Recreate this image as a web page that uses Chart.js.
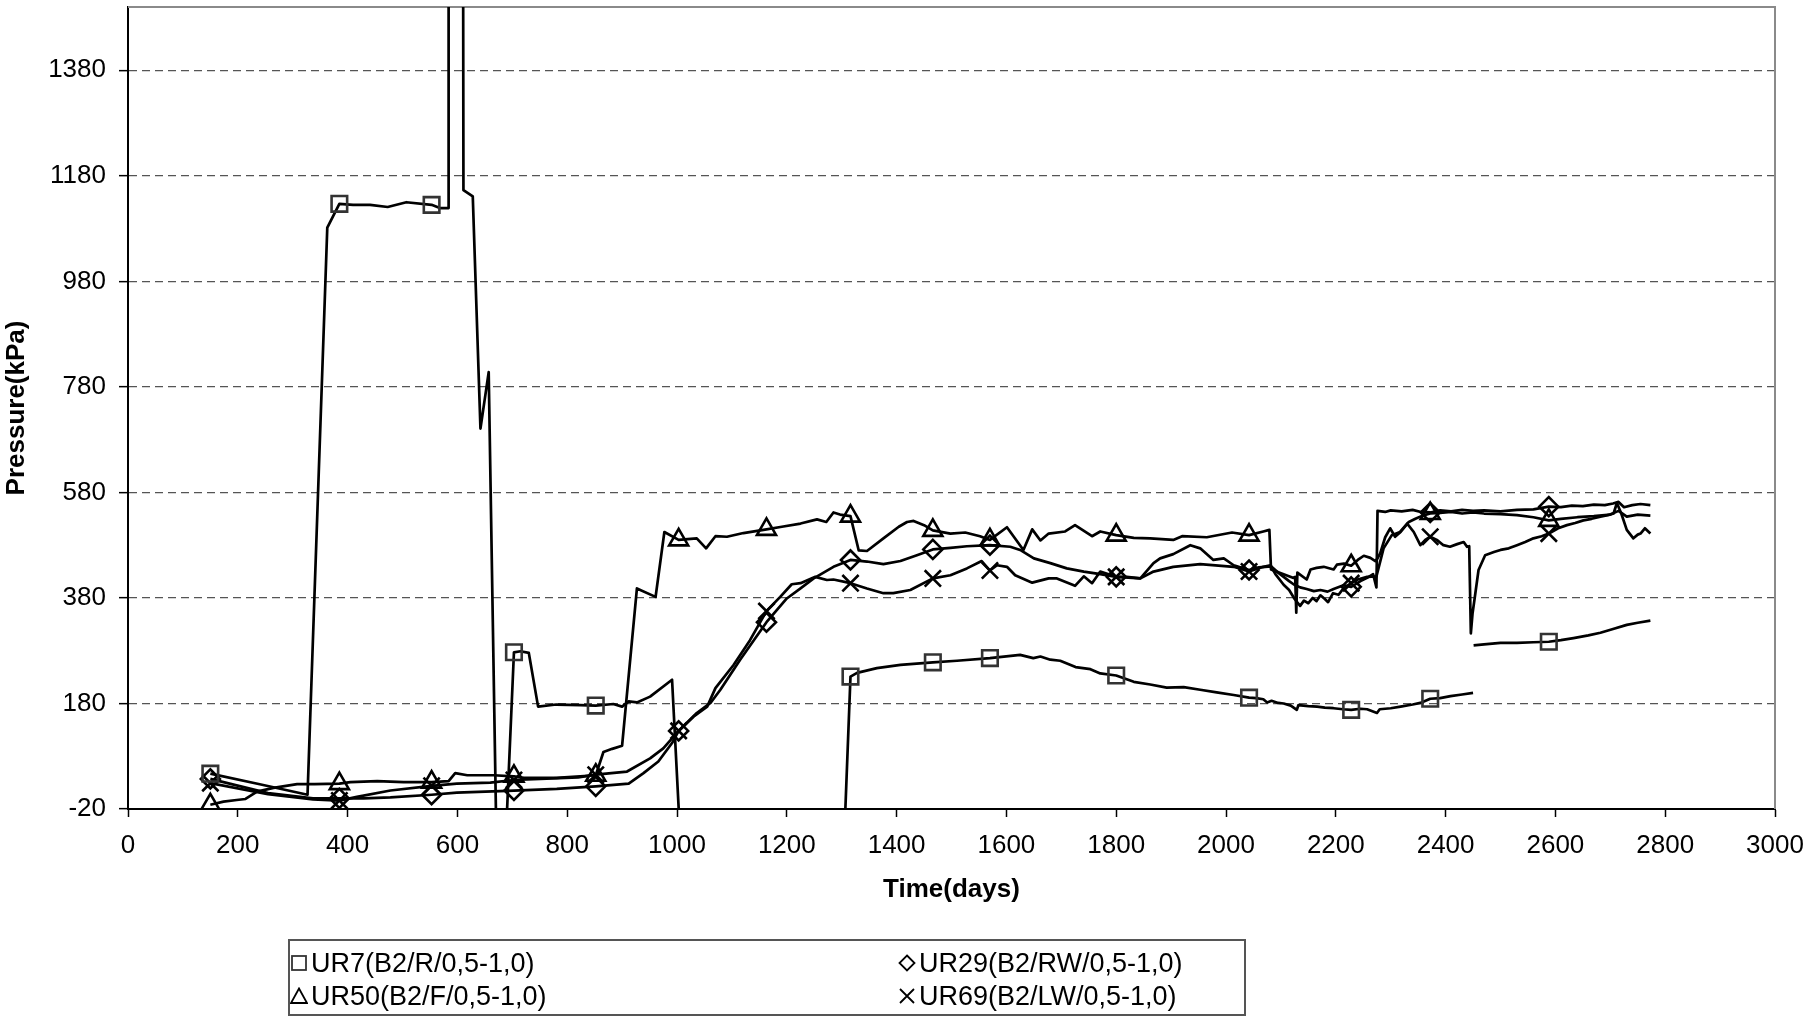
<!DOCTYPE html>
<html>
<head>
<meta charset="utf-8">
<title>Pressure vs time</title>
<script src="https://cdn.jsdelivr.net/npm/chart.js@4.4.1/dist/chart.umd.min.js"></script>
<style>
  body { margin: 0; background: #fff; }
  #wrap { position: relative; width: 1807px; height: 1018px; }
  #legend {
    position: absolute; left: 288px; top: 939px; width: 958px; height: 77px;
    border: 2px solid #555; box-sizing: border-box;
    font-family: "Liberation Sans", Arial, sans-serif; font-size: 27px; color: #000;
  }
  .item { position: absolute; height: 32px; line-height: 32px; white-space: nowrap; display: flex; align-items: center; }
  .item svg { margin-right: 3px; flex: none; }
</style>
</head>
<body>
<div id="wrap">
  <canvas id="chart" width="1807" height="1018"></canvas>
  <div id="legend"></div>
</div>
<script>
// axis ticks
const xTicks = [0, 200, 400, 600, 800, 1000, 1200, 1400, 1600, 1800, 2000, 2200, 2400, 2600, 2800, 3000];
const yTicks = [-20, 180, 380, 580, 780, 980, 1180, 1380];

// days on which Excel put a marker on each curve
const markerDays = [150, 385, 553, 703, 852, 1003, 1163, 1316, 1466, 1570, 1800, 2042, 2228, 2372, 2588];

// [day, kPa] (values under -20 / over 1500 run off the axes)
const ur7 = [
  [150, 47], [240, 27], [327, 7], [363, 1082], [385, 1127], [410, 1125], [441, 1125], [473, 1121],
  [507, 1130], [553, 1125], [568, 1119], [583, 1119], [584, 1900], [610, 1900], [611, 1153], [628, 1141],
  [642, 701], [657, 808], [673, -200], [683, -200], [703, 277], [715, 279], [730, 276], [747, 174],
  [780, 178], [824, 177], [852, 176], [884, 179], [900, 174], [912, 184], [927, 182], [951, 193],
  [991, 225], [1012, -200], [1300, -200], [1316, 231], [1328, 238], [1364, 247], [1407, 253], [1466, 258],
  [1510, 261], [1570, 266], [1625, 272], [1649, 266], [1662, 269], [1680, 263], [1698, 261], [1726, 249],
  [1753, 245], [1771, 237], [1800, 233], [1832, 221], [1862, 216], [1892, 210], [1923, 211], [1953, 206],
  [1983, 201], [2014, 196], [2042, 191], [2055, 190], [2068, 188], [2075, 182], [2083, 185], [2095, 181],
  [2105, 180], [2118, 176], [2129, 168], [2132, 177], [2150, 175], [2166, 174], [2180, 172], [2196, 171],
  [2213, 169], [2228, 168], [2245, 170], [2257, 169], [2275, 162], [2280, 169], [2300, 171], [2318, 174],
  [2340, 178], [2354, 181], [2372, 189], [2390, 190], [2409, 194], [2430, 197], [2450, 200], [2450.5, null],
  [2451, 290], [2470, 292], [2500, 295], [2530, 295], [2560, 296], [2588, 297], [2610, 300], [2633, 304],
  [2660, 309], [2682, 314], [2705, 321], [2730, 329], [2750, 333], [2773, 337]
];

const ur29 = [
  [150, 37], [255, 10], [337, 0], [385, 0], [429, 0], [478, 2], [553, 7], [599, 11], [703, 15], [781, 18],
  [852, 23], [912, 28], [939, 48], [966, 70], [991, 105], [1003, 128], [1036, 162], [1061, 181], [1079, 206],
  [1115, 263], [1163, 334], [1200, 379], [1225, 398], [1249, 417], [1285, 439], [1316, 452], [1346, 449],
  [1376, 444], [1407, 450], [1437, 461], [1466, 472], [1498, 475], [1528, 478], [1570, 480], [1607, 477],
  [1625, 471], [1650, 455], [1680, 446], [1710, 436], [1741, 430], [1771, 425], [1800, 420], [1844, 417],
  [1868, 446], [1880, 455], [1904, 463], [1935, 480], [1953, 474], [1977, 452], [1996, 455], [2014, 442],
  [2042, 433], [2060, 438], [2082, 440], [2095, 428], [2105, 420], [2115, 412], [2123, 406], [2135, 400],
  [2147, 397], [2160, 393], [2172, 395], [2185, 392], [2196, 397], [2214, 404], [2228, 401], [2245, 412],
  [2257, 418], [2268, 425], [2274, 400], [2276, 545], [2290, 543], [2300, 546], [2320, 544], [2340, 547],
  [2355, 543], [2372, 542], [2390, 546], [2410, 544], [2430, 547], [2450, 545], [2470, 546], [2500, 544],
  [2530, 547], [2560, 548], [2588, 553], [2610, 552], [2630, 555], [2650, 554], [2670, 557], [2690, 556],
  [2705, 559], [2715, 562], [2725, 552], [2740, 556], [2755, 558], [2773, 556]
];

const ur50 = [
  [150, -12], [174, -6], [198, -3], [214, -1], [235, 13], [265, 20], [308, 27], [340, 27], [385, 28],
  [405, 31], [454, 33], [502, 31], [553, 31], [584, 33], [596, 48], [618, 44], [666, 44], [703, 42],
  [721, 39], [781, 39], [852, 44], [866, 88], [882, 94], [900, 100], [927, 398], [961, 382], [977, 505],
  [1003, 490], [1036, 493], [1053, 474], [1070, 497], [1091, 496], [1121, 503], [1163, 510], [1191, 515],
  [1225, 521], [1255, 529], [1272, 524], [1285, 542], [1297, 538], [1316, 535], [1331, 470], [1346, 469],
  [1376, 493], [1404, 515], [1419, 524], [1431, 526], [1450, 518], [1466, 508], [1498, 502], [1525, 504],
  [1552, 497], [1570, 490], [1601, 514], [1631, 471], [1647, 510], [1662, 489], [1677, 502], [1707, 506],
  [1725, 518], [1756, 497], [1771, 506], [1800, 499], [1832, 494], [1862, 493], [1904, 490], [1920, 497],
  [1965, 495], [2011, 504], [2042, 499], [2068, 506], [2079, 509], [2082, 434], [2105, 425], [2123, 418],
  [2126, 420], [2128, 352], [2130, 428], [2147, 415], [2154, 434], [2165, 437], [2178, 439], [2196, 434],
  [2202, 443], [2215, 445], [2228, 441], [2240, 452], [2251, 460], [2263, 456], [2272, 450], [2276, 455],
  [2281, 465], [2290, 495], [2299, 512], [2308, 496], [2318, 505], [2333, 524], [2345, 530], [2358, 536],
  [2372, 540], [2390, 541], [2410, 543], [2430, 540], [2450, 542], [2470, 540], [2500, 539], [2530, 537],
  [2560, 533], [2588, 527], [2610, 530], [2640, 533], [2670, 535], [2700, 538], [2715, 545], [2730, 534],
  [2750, 538], [2773, 536]
];

const ur69 = [
  [150, 29], [255, 8], [337, -2], [385, -4], [417, 3], [478, 15], [553, 24], [599, 28], [660, 30], [703, 35],
  [751, 37], [820, 40], [852, 45], [909, 51], [951, 76], [975, 95], [1003, 128], [1030, 155], [1055, 174],
  [1070, 209], [1103, 253], [1133, 300], [1163, 355], [1188, 382], [1209, 406], [1225, 408], [1252, 420],
  [1273, 414], [1285, 415], [1316, 408], [1346, 398], [1376, 389], [1394, 389], [1425, 395], [1466, 417],
  [1498, 423], [1528, 436], [1555, 450], [1570, 432], [1583, 442], [1601, 439], [1616, 423], [1647, 409],
  [1677, 417], [1692, 417], [1725, 403], [1741, 421], [1756, 408], [1771, 430], [1800, 420], [1819, 420],
  [1844, 417], [1868, 430], [1904, 439], [1953, 444], [2014, 439], [2042, 430], [2068, 439], [2081, 442],
  [2090, 425], [2105, 405], [2115, 395], [2125, 378], [2135, 365], [2142, 375], [2150, 370], [2158, 380],
  [2165, 374], [2172, 385], [2180, 378], [2186, 372], [2195, 389], [2205, 386], [2214, 398], [2228, 408],
  [2240, 415], [2257, 420], [2274, 421], [2287, 474], [2302, 499], [2317, 505], [2330, 521], [2342, 505],
  [2354, 480], [2363, 490], [2372, 496], [2384, 490], [2396, 480], [2408, 477], [2421, 482], [2433, 486],
  [2439, 477], [2443, 478], [2446, 313], [2449, 350], [2453, 380], [2460, 433], [2472, 461], [2488, 467],
  [2500, 471], [2515, 474], [2530, 480], [2545, 486], [2560, 493], [2575, 497], [2588, 502], [2605, 512],
  [2621, 518], [2636, 522], [2651, 527], [2666, 530], [2682, 534], [2695, 537], [2706, 540], [2712, 560],
  [2720, 540], [2730, 509], [2742, 493], [2750, 500], [2755, 502], [2763, 512], [2773, 502]
];

const seriesNames = ['UR7(B2/R/0,5-1,0)', 'UR29(B2/RW/0,5-1,0)', 'UR50(B2/F/0,5-1,0)', 'UR69(B2/LW/0,5-1,0)'];

Chart.defaults.font.family = '"Liberation Sans", Arial, sans-serif';
Chart.defaults.color = '#000';

function makeSet(label, pairs, style, radius, markColor) {
  return {
    label: label,
    data: pairs.map(p => ({ x: p[0], y: p[1] })),
    borderColor: '#000',
    borderWidth: 2.7,
    borderJoinStyle: 'round',
    tension: 0,
    spanGaps: false,
    pointStyle: style,
    pointBorderColor: markColor,
    pointBackgroundColor: 'rgba(0,0,0,0)',
    pointBorderWidth: 2.6,
    pointRadius: ctx => {
      const r = ctx.raw;
      if (!r || r.y === null || r.y < -20 || r.y > 1500) return 0;
      return markerDays.includes(r.x) ? radius : 0;
    },
    pointHoverRadius: 0
  };
}

// gray frame on top / right of the plot area, like the Excel chart
const framePlugin = {
  id: 'frame',
  beforeDatasetsDraw(chart) {
    const { ctx, chartArea: a } = chart;
    ctx.save();
    ctx.strokeStyle = '#8a8a8a';
    ctx.lineWidth = 2;
    ctx.beginPath();
    ctx.moveTo(a.left, a.top);
    ctx.lineTo(a.right, a.top);
    ctx.lineTo(a.right, a.bottom);
    ctx.stroke();
    ctx.restore();
  }
};

new Chart(document.getElementById('chart'), {
  type: 'line',
  data: {
    datasets: [
      makeSet(seriesNames[0], ur7, 'rect', 11, '#333'),
      makeSet(seriesNames[1], ur29, 'rectRot', 9.5, '#000'),
      makeSet(seriesNames[2], ur50, 'triangle', 11, '#000'),
      makeSet(seriesNames[3], ur69, 'crossRot', 11.5, '#000')
    ]
  },
  options: {
    responsive: false,
    devicePixelRatio: 1,
    animation: false,
    events: [],
    layout: { autoPadding: false, padding: { left: 0, right: 32, top: 7, bottom: 109 } },
    plugins: {
      legend: { display: false },
      tooltip: { enabled: false }
    },
    scales: {
      x: {
        type: 'linear',
        min: 0,
        max: 3000,
        afterBuildTicks: s => { s.ticks = xTicks.map(v => ({ value: v })); },
        afterFit: s => { s.height = 100; s.paddingLeft = 0; s.paddingRight = 0; },
        ticks: { font: { size: 26 }, padding: 13, maxRotation: 0, autoSkip: false, callback: v => String(v) },
        grid: { drawOnChartArea: false, drawTicks: true, tickLength: 8, tickColor: '#000', tickWidth: 1.5 },
        border: { color: '#000', width: 2 },
        title: { display: true, text: 'Time(days)', font: { size: 26, weight: 'bold' }, padding: { top: 0, bottom: 4 } }
      },
      y: {
        type: 'linear',
        min: -20,
        max: 1500,
        afterBuildTicks: s => { s.ticks = yTicks.map(v => ({ value: v })); },
        afterFit: s => { s.width = 128; s.paddingTop = 0; s.paddingBottom = 0; },
        ticks: { font: { size: 26 }, padding: 13, callback: v => String(v) },
        grid: {
          color: ctx => (ctx.tick && ctx.tick.value === -20) ? 'rgba(0,0,0,0)' : '#555',
          lineWidth: 1.3,
          tickColor: '#000',
          tickLength: 9,
          tickWidth: 1.5
        },
        border: { color: '#000', width: 2, dash: [8, 5] },
        title: { display: true, text: 'Pressure(kPa)', font: { size: 26, weight: 'bold' }, padding: { top: 1, bottom: 0 } }
      }
    }
  },
  plugins: [framePlugin]
});

// legend box under the plot, two columns like the original
const legendIcons = [
  '<rect x="2" y="2" width="14" height="14" fill="none" stroke="#333" stroke-width="1.8"/>',
  '<polygon points="9,1.5 16.5,9 9,16.5 1.5,9" fill="none" stroke="#000" stroke-width="1.8"/>',
  '<polygon points="9,1.5 17,16 1,16" fill="none" stroke="#000" stroke-width="1.8"/>',
  '<path d="M2,2 L16,16 M16,2 L2,16" stroke="#000" stroke-width="1.8"/>'
];
const legendSlots = [[0, 6], [608, 6], [0, 39], [608, 39]];
const legend = document.getElementById('legend');
seriesNames.forEach((name, i) => {
  const el = document.createElement('div');
  el.className = 'item';
  el.style.left = legendSlots[i][0] + 'px';
  el.style.top = legendSlots[i][1] + 'px';
  el.innerHTML = '<svg width="18" height="18" viewBox="0 0 18 18">' + legendIcons[i] + '</svg><span>' + name + '</span>';
  legend.appendChild(el);
});
</script>
</body>
</html>
